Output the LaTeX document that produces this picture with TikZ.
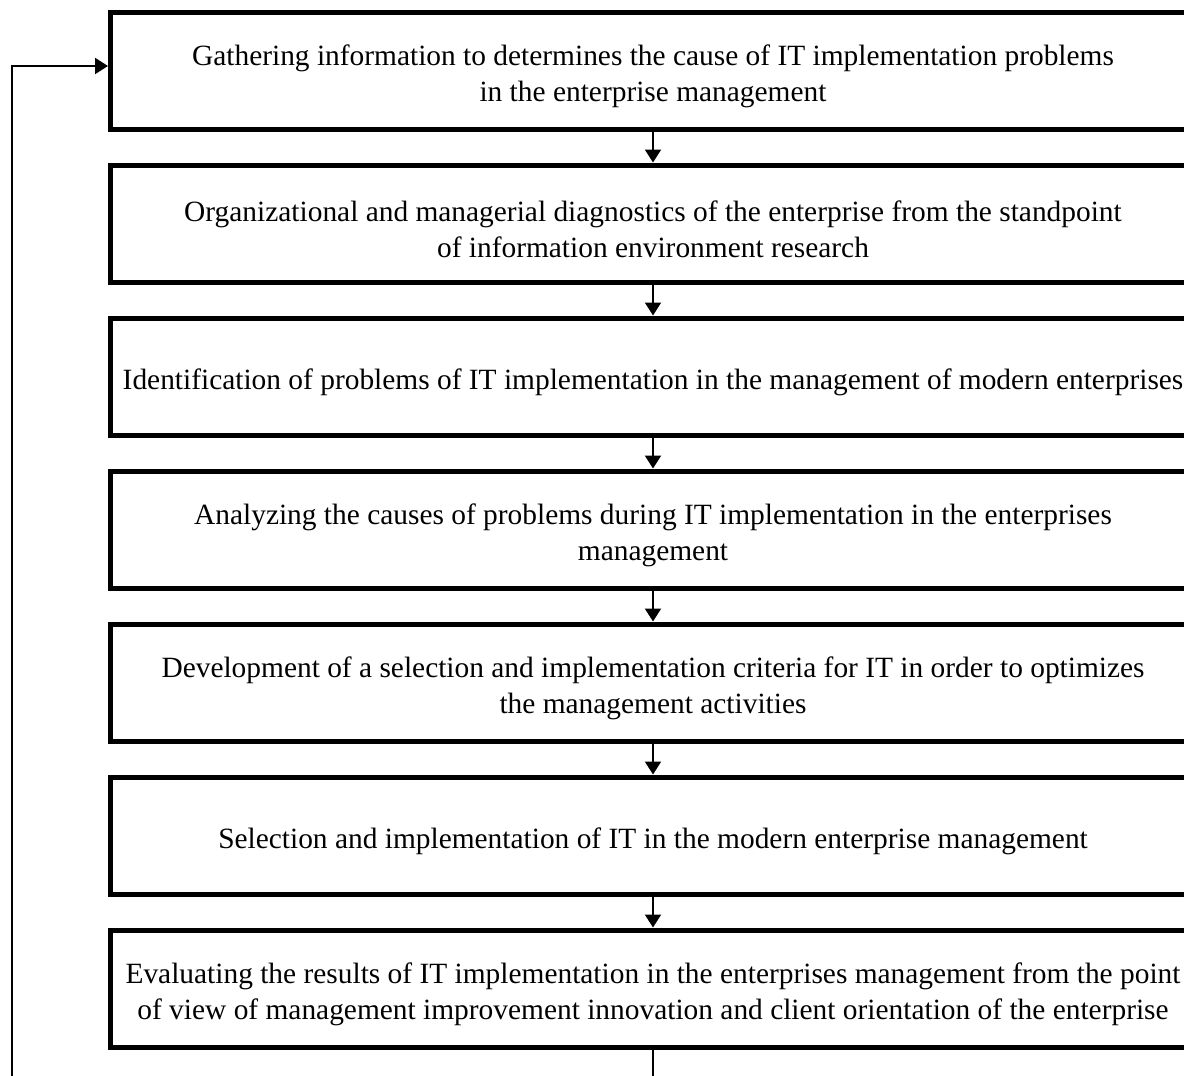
\documentclass[tikz,border=0pt]{standalone}
\usepackage{fontspec}
\setmainfont{Liberation Serif}
\usetikzlibrary{arrows.meta,positioning}
\newcommand{\topgap}{\rule{0pt}{16pt}}
\tikzset{
    %Define standard arrow tip
    >={Triangle[length=6.5pt,width=8pt]},
    %Define style for boxes
    stage/.style={
           rectangle,
           draw=black, line width=2.5pt,
           minimum width=542.5pt,
           minimum height=58.5pt,
           font=\fontsize{14.7}{18}\selectfont,
           align=center,
           text centered},
    % Define arrow style
    pil/.style={
           ->,
           line width=1pt}
}
\begin{document}
\begin{tikzpicture}[node distance=15.5pt]
\useasboundingbox (0,0) rectangle (592pt,-538pt);
 %nodes
\node[stage] (1) at (326.5pt,-35.25pt) {\topgap Gathering information to determines the cause of IT implementation problems\\ in the enterprise management};
\node[stage, below=of 1] (2) {\topgap Organizational and managerial diagnostics of the enterprise from the standpoint\\ of information environment research};
\node[stage, below=of 2] (3) {\topgap Identification of problems of IT implementation in the management of modern enterprises};
\node[stage, below=of 3] (4) {\topgap Analyzing the causes of problems during IT implementation in the enterprises\\ management};
\node[stage, below=of 4] (5) {\topgap Development of a selection and implementation criteria for IT in order to optimizes\\ the management activities};
\node[stage, below=of 5] (6) {\topgap Selection and implementation of IT in the modern enterprise management};
\node[stage, below=of 6] (7) {\topgap Evaluating the results of IT implementation in the enterprises management from the point\\ of view of management improvement innovation and client orientation of the enterprise};
\coordinate[below=30pt of 7] (low);
\coordinate (side) at (6pt,-560pt);
 %arrows
\foreach \a/\b in {1/2,2/3,3/4,4/5,5/6,6/7}
    \draw[pil] (\a) -- (\b);
\draw[pil] (7) -- (low) -| (side) |- ([yshift=2.25pt]1.west);
\end{tikzpicture}
\end{document}
